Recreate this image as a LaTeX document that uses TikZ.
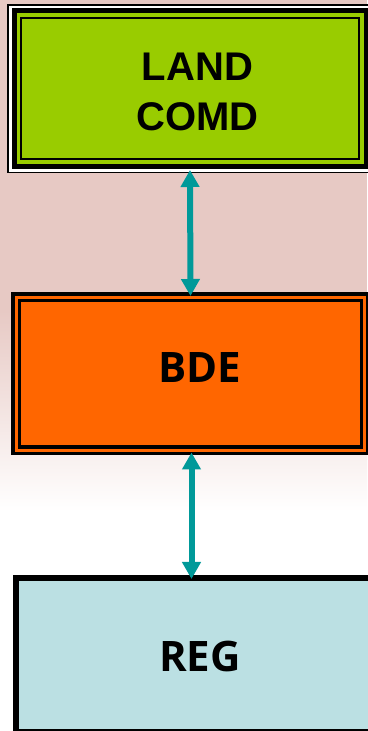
\documentclass[tikz,border=0pt]{standalone}
\usepackage{fontspec}
\setmainfont{Liberation Sans}
\newfontfamily\opensans{Open Sans}
\usetikzlibrary{arrows.meta}
\definecolor{comdgreen}{HTML}{99CC00}
\definecolor{bdeorange}{HTML}{FF6600}
\definecolor{regblue}{HTML}{BBE0E3}
\definecolor{linkteal}{HTML}{009999}
\definecolor{bgpink}{HTML}{E7C9C4}
\tikzset{>=latex}
\tikzset{
  unitbox/.style={rectangle,inner sep=0pt,outer sep=0pt,draw=black},
  boxtext/.style={inner sep=0pt,align=center,text=black},
  link/.style={{Triangle[length=17pt,width=18pt]}-{Triangle[length=17pt,width=18pt]},line width=6pt,draw=linkteal}
}

\begin{document}
\begin{tikzpicture}[x=1pt,y=1pt]
\useasboundingbox (0,0) rectangle (367,731);
\fill[white] (0,0) rectangle (367,731);
\fill[bgpink] (0,731) rectangle (367,420);
\shade[top color=bgpink,bottom color=white] (0,420.5) rectangle (367,220);

\node[unitbox,line width=1.2pt,fill=white,minimum width=364pt,minimum height=167.5pt] (land) at (190,642.25) {};
\draw[line width=5pt,fill=comdgreen] ([shift={(6,-6)}]land.north west) rectangle ([shift={(-6,6)}]land.south east);
\draw[line width=2pt] ([shift={(13,-13)}]land.north west) rectangle ([shift={(-13,13)}]land.south east);
\node[boxtext,font=\fontsize{40}{50}\selectfont\bfseries] (landlabel) at ([shift={(7.5,-3.25)}]land.center) {LAND\\COMD};

\node[unitbox,line width=3.5pt,fill=bdeorange,minimum width=355pt,minimum height=159.5pt] (bde) at (190.5,357.25) {};
\draw[line width=3.5pt] ([shift={(6.5,-6.5)}]bde.north west) rectangle ([shift={(-6.5,6.5)}]bde.south east);
\node[boxtext,font=\fontsize{42}{50}\opensans\bfseries] (bdelabel) at ([shift={(9,5.75)}]bde.center) {BDE};

\node[unitbox,line width=5.5pt,fill=regblue,minimum width=358pt,minimum height=153.5pt] (reg) at (195,76.25) {};
\node[boxtext,font=\fontsize{42}{50}\opensans\bfseries] (reglabel) at ([shift={(5,-1.75)}]reg.center) {REG};

\draw[link,shorten <=-2.5pt,shorten >=-2pt] (land.south) -- (bde.north);
\draw[link,shorten <=-1pt,shorten >=-1pt] ([xshift=1pt]bde.south) -- ([xshift=1pt]bde.south |- reg.north);

\end{tikzpicture}
\end{document}
